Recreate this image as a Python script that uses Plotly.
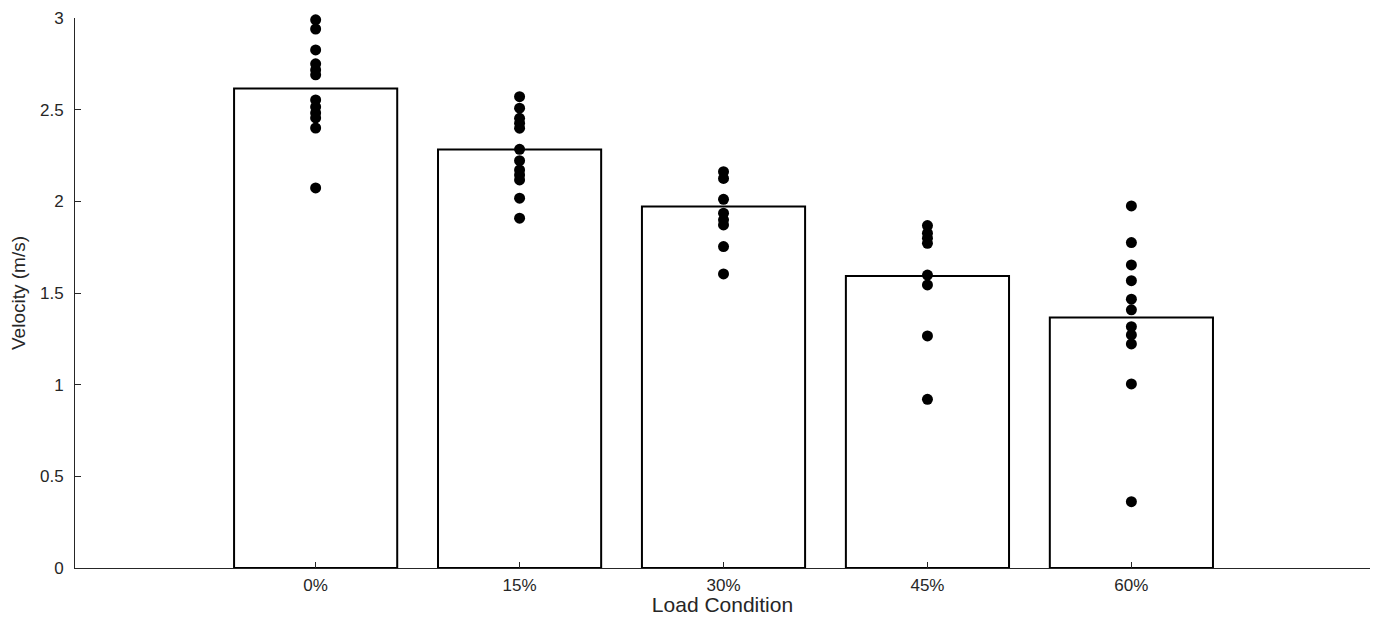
import plotly.graph_objects as go

categories = ["0%", "15%", "30%", "45%", "60%"]
bar_means = [2.615, 2.283, 1.972, 1.593, 1.366]

pts_0 = [2.99, 2.94, 2.826, 2.75, 2.717, 2.69, 2.553, 2.515, 2.482, 2.455, 2.40, 2.073]
pts_15 = [2.571, 2.508, 2.453, 2.426, 2.399, 2.284, 2.222, 2.171, 2.144, 2.117, 2.017, 1.908]
pts_30 = [2.162, 2.125, 2.011, 1.935, 1.899, 1.871, 1.753, 1.604]
pts_45 = [1.868, 1.826, 1.799, 1.771, 1.598, 1.544, 1.266, 0.920]
pts_60 = [1.975, 1.775, 1.653, 1.567, 1.466, 1.408, 1.316, 1.271, 1.222, 1.004, 0.362]

y_ticks = [0, 0.5, 1, 1.5, 2, 2.5, 3]
y_ticktext = ["0", "0.5", "1", "1.5", "2", "2.5", "3"]

fig = go.Figure()
fig.add_trace(go.Bar(
    x=categories, y=bar_means, width=0.8,
    marker=dict(color="white", line=dict(color="black", width=2)),
    showlegend=False,
))

all_pts = [pts_0, pts_15, pts_30, pts_45, pts_60]
xs, ys = [], []
for cat, pts in zip(categories, all_pts):
    xs += [cat] * len(pts)
    ys += pts
fig.add_trace(go.Scatter(
    x=xs, y=ys, mode="markers", cliponaxis=False,
    marker=dict(color="black", size=11, line=dict(width=0)),
    showlegend=False,
))

axis_color = "#262626"
fig.update_layout(
    width=1370, height=608,
    margin=dict(l=67, r=8, t=10, b=48),
    plot_bgcolor="white", paper_bgcolor="white",
    font=dict(family="Liberation Sans, Arial, sans-serif", color=axis_color),
    xaxis=dict(
        type="category", range=[-1.18, 5.17], automargin=False,
        showline=True, linecolor=axis_color, linewidth=1,
        ticks="inside", ticklen=6, tickcolor=axis_color,
        showgrid=False, zeroline=False,
        tickfont=dict(size=17), ticklabelstandoff=2,
        title=dict(text="Load Condition", font=dict(size=21), standoff=4),
    ),
    yaxis=dict(
        range=[0, 3], tickvals=y_ticks, ticktext=y_ticktext, automargin=False,
        showline=True, linecolor=axis_color, linewidth=1,
        ticks="inside", ticklen=6, tickcolor=axis_color,
        showgrid=False, zeroline=False,
        tickfont=dict(size=17), ticklabelstandoff=7,
        title=dict(text="Velocity (m/s)", font=dict(size=19), standoff=10),
    ),
    bargap=0.2,
)

fig.write_html("out.html")
